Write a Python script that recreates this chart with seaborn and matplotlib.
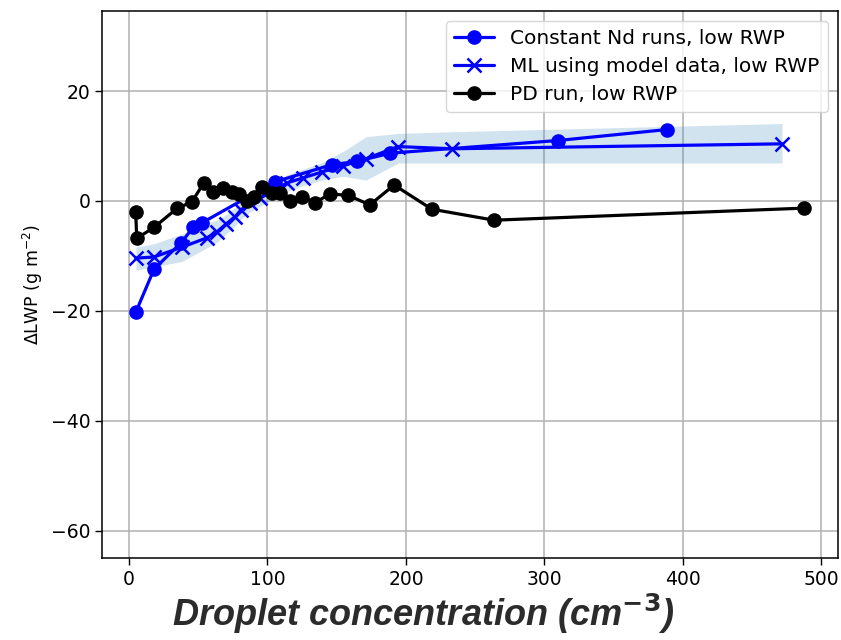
import matplotlib
matplotlib.use("Agg")
import matplotlib.pyplot as plt
import seaborn as sns
import pandas as pd
import numpy as np

# ---- data ----
const_nd_x = [4.8, 18.1, 37.6, 46.4, 52.5, 105.5, 146.5, 164.5, 188.6, 309.5, 388.5]
const_nd_y = [-20.3, -12.4, -7.6, -4.8, -4.0, 3.5, 6.6, 7.2, 8.7, 11.0, 13.0]

ml_x = [5.0, 18.0, 38.3, 56.4, 63.6, 70.1, 76.6, 80.9, 87.4, 94.6, 114.2, 125.7, 139.5, 154.6, 171.2, 194.4, 233.4, 471.6]
ml_y = [-10.4, -10.2, -8.4, -6.7, -5.6, -4.2, -2.9, -1.6, -0.4, 0.5, 3.3, 4.2, 5.3, 6.4, 7.7, 9.9, 9.5, 10.4]
ml_lo = [-12.6, -12.0, -11.0, -8.5, -7.5, -6.0, -4.5, -3.3, -2.0, -1.0, 1.8, 2.8, 3.8, 4.5, 3.8, 6.9, 6.9, 6.9]
ml_hi = [-8.4, -7.8, -6.0, -4.0, -3.5, -2.5, -1.2, 0.0, 1.2, 2.0, 4.8, 5.8, 7.0, 9.0, 11.7, 12.3, 12.6, 14.1]

pd_x = [4.8, 5.6, 18.1, 34.9, 45.3, 53.8, 60.9, 68.1, 74.2, 79.7, 85.0, 90.3, 96.1, 103.1,
        109.1, 116.3, 124.8, 134.4, 145.2, 158.4, 173.9, 191.5, 218.7, 263.7, 487.7]
pd_y = [-1.95, -6.8, -4.8, -1.3, -0.2, 3.2, 1.7, 2.4, 1.7, 1.2, 0.05, 0.8, 2.6, 1.5,
        1.4, 0.0, 0.8, -0.3, 1.3, 1.0, -0.7, 2.9, -1.5, -3.5, -1.3]

labels = ["Constant Nd runs, low RWP", "ML using model data, low RWP", "PD run, low RWP"]
x_ticks = [0, 100, 200, 300, 400, 500]
y_ticks = [-60, -40, -20, 0, 20]

sns.set_style("ticks", {"axes.grid": True, "grid.color": "#b0b0b0",
                        "axes.edgecolor": "black", "xtick.color": "black",
                        "ytick.color": "black", "text.color": "black",
                        "axes.labelcolor": "black"})
plt.rcParams["font.family"] = ["DejaVu Sans"]

fig = plt.figure(figsize=(8.41, 6.40), dpi=100)
ax = fig.add_axes([0.1213, 0.128, 0.8751, 0.855])

df_c = pd.DataFrame({"x": const_nd_x, "y": const_nd_y})
df_m = pd.DataFrame({"x": ml_x, "y": ml_y, "lo": ml_lo, "hi": ml_hi})
df_p = pd.DataFrame({"x": pd_x, "y": pd_y})

ax.fill_between(df_m["x"], df_m["lo"], df_m["hi"], color="tab:blue", alpha=0.2,
                linewidth=0, zorder=1)

sns.lineplot(data=df_c, x="x", y="y", sort=False, estimator=None, ax=ax,
             color="blue", marker="o", markersize=9.5, markeredgecolor="blue",
             markeredgewidth=1, linewidth=2.3, label=labels[0], zorder=3)
sns.lineplot(data=df_m, x="x", y="y", sort=False, estimator=None, ax=ax,
             color="blue", marker="x", markersize=10, markeredgecolor="blue",
             markeredgewidth=1.8, linewidth=2.3, label=labels[1], zorder=3)
sns.lineplot(data=df_p, x="x", y="y", sort=False, estimator=None, ax=ax,
             color="black", marker="o", markersize=9.5, markeredgecolor="black",
             markeredgewidth=1, linewidth=2.3, label=labels[2], zorder=4)

ax.set_xlim(-19.5, 512)
ax.set_ylim(-65, 34.6)
ax.set_xticks(x_ticks)
ax.set_yticks(y_ticks)
ax.set_yticklabels([("\u2212" + str(-v)) if v < 0 else str(v) for v in y_ticks])
ax.tick_params(axis="both", labelsize=13.5, length=5, width=1, direction="out")
ax.grid(True, color="#b0b0b0", linewidth=1.1)
for s in ax.spines.values():
    s.set_color("black")
    s.set_linewidth(1.1)
    s.set_visible(True)

ax.set_ylabel("\u0394LWP (g m$^{-2}$)", fontsize=12.5, labelpad=4)
ax.set_xlabel("Droplet concentration (cm$^{\\mathbf{-3}}$)",
              fontsize=26, fontweight="bold", fontstyle="italic",
              family=["Liberation Sans Narrow", "Liberation Sans", "DejaVu Sans"],
              color="#2b2b2b", labelpad=4)
ax.xaxis.set_label_coords(0.436, -0.062)

leg = ax.legend(loc="upper right", fontsize=14.5, framealpha=0.8,
                edgecolor="#cccccc", handlelength=2.0, borderpad=0.4,
                labelspacing=0.45)
leg.get_frame().set_linewidth(1)

fig.savefig("out.png", dpi=100)
